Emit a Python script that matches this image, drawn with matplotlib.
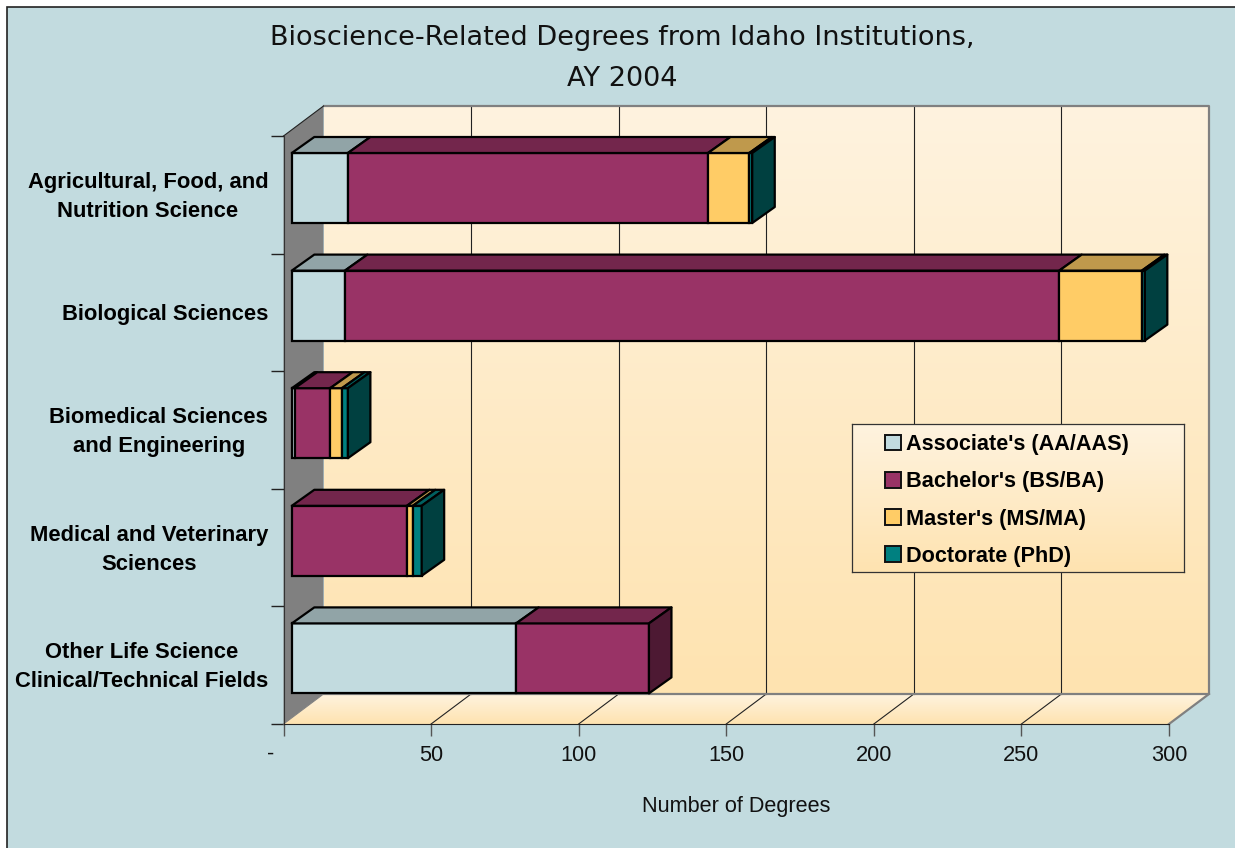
import numpy as np
import matplotlib
matplotlib.use('Agg')
import matplotlib.pyplot as plt
from matplotlib.colors import LinearSegmentedColormap
from matplotlib.patches import Patch, Polygon, Rectangle

categories = [
    'Agricultural, Food, and\nNutrition Science',
    'Biological Sciences',
    'Biomedical Sciences\nand Engineering',
    'Medical and Veterinary\nSciences',
    'Other Life Science\nClinical/Technical Fields',
]
series_names = ["Associate's (AA/AAS)", "Bachelor's (BS/BA)", "Master's (MS/MA)", 'Doctorate (PhD)']
associate = [19, 18, 1, 0, 76]
bachelor = [122, 242, 12, 39, 45]
master = [14, 28, 4, 2, 0]
doctorate = [1, 1, 2, 3, 0]
x_ticks = [50, 100, 150, 200, 250, 300]

W, H = 1235, 848
BG = '#c2dbdf'
front = ['#c2dbdf', '#993366', '#ffcc66', '#008080']
top = ['#91a4a7', '#73264c', '#bf994c', '#006060']
side = ['#616e70', '#4d1933', '#806633', '#004040']
sand = LinearSegmentedColormap.from_list('sand', ['#fff3df', '#fee3b0'])
gradient = np.linspace(0, 1, 256).reshape(-1, 1)

# pixels of the picture -> data units of the front plane
left_px, right_px, top_px, bottom_px = 283.5, 1169, 136, 724
ux = 300 / (right_px - left_px)
uy = 5 / (bottom_px - top_px)
wall_dx, wall_dy = 40 * ux, 30 * uy
bar_dx, bar_dy = 22.5 * ux, 16 * uy
bar_x0 = 8.3 * ux
bar_h = 70 * uy
bar_shift = 6.8 * uy

fig = plt.figure(figsize=(W / 100, H / 100), dpi=100, facecolor='white')
plt.rcParams['font.family'] = ['Liberation Sans', 'DejaVu Sans']
fig.add_artist(Rectangle((6.5 / W, -0.01), 1.02, 1.01 - 7.5 / H, transform=fig.transFigure,
                         fc=BG, ec='#222222', lw=1.2, zorder=-5))

ax = fig.add_axes([left_px / W, 1 - bottom_px / H, (right_px - left_px) / W, (bottom_px - top_px) / H])
ax.patch.set_visible(False)
ax.set_xlim(0, 300)
ax.set_ylim(5, 0)

# back wall, side wall and floor
ax.imshow(gradient, extent=(wall_dx, 300 + wall_dx, 5 - wall_dy, -wall_dy), aspect='auto', cmap=sand,
          clip_on=False, zorder=1)
side_wall = Polygon([(0, 0), (wall_dx, -wall_dy), (wall_dx, 5 - wall_dy), (0, 5)], fc='#808080', ec='none',
                    clip_on=False, zorder=1)
ax.add_patch(side_wall)
floor = Polygon([(0, 5), (wall_dx, 5 - wall_dy), (300 + wall_dx, 5 - wall_dy), (300, 5)], fc='none', ec='none',
                clip_on=False, zorder=1)
ax.add_patch(floor)
floor_img = ax.imshow(gradient, extent=(0, 300 + wall_dx, 5, 5 - wall_dy), aspect='auto', cmap=sand, zorder=1)
floor_img.set_clip_path(floor)
floor_img.set_clip_box(fig.bbox)
ax.set_xlim(0, 300)
ax.set_ylim(5, 0)

for v in x_ticks[:-1]:
    ax.plot([v + wall_dx] * 2, [-wall_dy, 5 - wall_dy], color='#222222', lw=0.8, clip_on=False, zorder=2)
    ax.plot([v, v + wall_dx], [5, 5 - wall_dy], color='#222222', lw=0.8, clip_on=False, zorder=2)

ax.plot([wall_dx, 300 + wall_dx, 300 + wall_dx, wall_dx], [-wall_dy, -wall_dy, 5 - wall_dy, 5 - wall_dy],
        color='#808080', lw=1.6, clip_on=False, zorder=2)
ax.plot([300, 300 + wall_dx], [5, 5 - wall_dy], color='#808080', lw=1.6, clip_on=False, zorder=2)
ax.plot([0, wall_dx], [0, -wall_dy], color='#222222', lw=0.8, clip_on=False, zorder=2)
ax.plot([0, wall_dx], [5, 5 - wall_dy], color='#808080', lw=0.8, clip_on=False, zorder=2)

# stacked 3d bars
series = [associate, bachelor, master, doctorate]
y_pos = np.arange(len(categories)) + 0.5
for i, y in enumerate(y_pos):
    yc = y - bar_shift
    y_top = yc - bar_h / 2
    y_bot = yc + bar_h / 2
    start = bar_x0
    last = None
    for j, values in enumerate(series):
        w = values[i]
        if w == 0:
            continue
        ax.barh(yc, w, height=bar_h, left=start, color=front[j], edgecolor='black', lw=1.6, zorder=4, clip_on=False)
        ax.add_patch(Polygon([(start, y_top), (start + w, y_top), (start + w + bar_dx, y_top - bar_dy),
                              (start + bar_dx, y_top - bar_dy)], fc=top[j], ec='black', lw=1.6, zorder=4,
                             joinstyle='round', clip_on=False))
        start += w
        last = j
    ax.add_patch(Polygon([(start, y_top), (start + bar_dx, y_top - bar_dy), (start + bar_dx, y_bot - bar_dy),
                          (start, y_bot)], fc=side[last], ec='black', lw=1.6, zorder=4, joinstyle='round',
                         clip_on=False))

# axes, ticks and labels
for s in ['top', 'right']:
    ax.spines[s].set_visible(False)
ax.spines['left'].set_color('#333333')
ax.spines['left'].set_bounds(0, 5)
ax.spines['bottom'].set_color('#222222')
ax.spines['left'].set_zorder(3)
ax.spines['bottom'].set_zorder(3)

ax.set_xticks([0] + x_ticks)
ax.set_xticklabels([''] + [str(v) for v in x_ticks], fontsize=15.7, color='#111111')
ax.tick_params(axis='x', length=8.6, width=1, color='#555555', pad=6.5)
ax.annotate('-', (0, 5), xytext=(-13, -30), textcoords='offset pixels', ha='center', va='center', fontsize=15.7,
            color='#111111', annotation_clip=False)
ax.set_yticks(range(6))
ax.set_yticklabels([])
ax.tick_params(axis='y', which='major', length=9.4, width=1, color='#222222')
ax.set_yticks(y_pos + 2 * uy, minor=True)
ax.set_yticklabels(categories, minor=True, fontsize=15.8, fontweight='bold', color='black', linespacing=1.5,
                   ma='center', va='center')
ax.tick_params(axis='y', which='minor', length=0, pad=11)
ax.set_xlabel('Number of Degrees', fontsize=15.6, color='#111111')
ax.xaxis.set_label_coords((736.5 - left_px) / (right_px - left_px), -72 / (bottom_px - top_px))

fig.text(622 / W, 1 - 58.5 / H, 'Bioscience-Related Degrees from Idaho Institutions,\nAY 2004', ha='center',
         va='center', family='DejaVu Sans', fontsize=19.5, color='#111111', linespacing=1.72)

# legend box with the same sand gradient
box = fig.add_axes([852 / W, 1 - 572 / H, 332 / W, 148 / H], zorder=3)
box.imshow(gradient, aspect='auto', cmap=sand, extent=(0, 1, 0, 1))
box.set_xticks([])
box.set_yticks([])
for s in box.spines.values():
    s.set_color('#333333')
    s.set_linewidth(0.9)
handles = [Patch(fc=c, ec='#111111', lw=1.4) for c in front]
leg = fig.legend(handles, series_names, loc='upper left', bbox_to_anchor=(885 / W, 1 - 434 / H), frameon=False,
                 borderpad=0, borderaxespad=0, prop={'family': 'Liberation Sans', 'weight': 'bold', 'size': 15.6},
                 handlelength=0.75, handleheight=0.75, handletextpad=0.22, labelspacing=0.75)
leg.set_zorder(6)

fig.savefig('out.png', dpi=100, facecolor='white')
